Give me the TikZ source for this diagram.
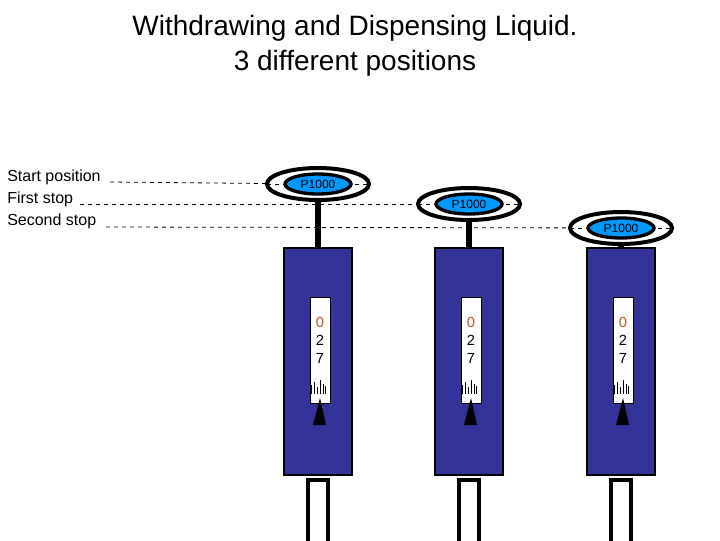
\documentclass[tikz,border=0pt]{standalone}
\usepackage{fontspec}
\setmainfont{Liberation Sans}
\begin{document}
\begin{tikzpicture}[x=0.75pt,y=-0.75pt,
  body/.style={draw=black,fill={rgb,255:red,51;green,51;blue,153},line width=0.8pt},
  win/.style={draw=black,fill=white,line width=0.6pt},
  tube/.style={draw=black,fill=white,line width=3pt},
  rod/.style={line width=4.5pt},
  outer/.style={draw=black,fill=white,line width=3pt,ellipse},
  inner/.style={draw=black,fill={rgb,255:red,0;green,153;blue,255},line width=2.5pt},
  guide/.style={dashed,line width=0.6pt},
  lbl/.style={anchor=west,font=\fontsize{12}{14}\selectfont,inner sep=0pt},
  dig/.style={font=\fontsize{11}{12}\selectfont,inner sep=0pt}]
\useasboundingbox (0,0) rectangle (720,540);
\node[font=\fontsize{21}{26}\selectfont,align=center] (title) at (355,46) {Withdrawing and Dispensing Liquid.\\3 different positions};
\node[lbl] (l1) at (7,177) {Start position};
\node[lbl] (l2) at (7,199) {First stop};
\node[lbl] (l3) at (7,221) {Second stop};
\coordinate (e1) at (318,184);
\coordinate (e2) at (469,204);
\coordinate (e3) at (621,228);
\draw[guide] (110,182) -- (e1);
\draw[guide] (80,204) -- (e2);
\draw[guide] (106,227) -- (e3);
\foreach \cx/\cy/\n in {318/184/1,469/204/2,621/228/3}{
  \draw[rod] (\cx,\cy) -- (\cx,250);
  \draw[body] (\cx-34,248) rectangle (\cx+34,475);
  \draw[win] (\cx-8,297) rectangle (\cx+12,403);
  \node[dig,text={rgb,255:red,190;green,80;blue,40}] (d0\n) at (\cx+2,322) {0};
  \node[dig] (d2\n) at (\cx+2,340) {2};
  \node[dig] (d7\n) at (\cx+2,358) {7};
  \foreach \t/\h in {-7/9,-4/12,-1/7,2/14,5/10,7/8}
    \draw[line width=0.5pt] (\cx+\t,394) -- (\cx+\t,394-\h);
  \fill (\cx+2,398) -- (\cx+8,425) -- (\cx-5,425) -- cycle;
  \draw[tube] (\cx-10,480) rectangle (\cx+10,545);
  \draw[black,line width=3pt,fill=white] (\cx,\cy) ellipse [x radius=51,y radius=16];
  \draw[guide] (\cx-51,\cy) -- (\cx+51,\cy);
  \draw[inner] (\cx,\cy) ellipse [x radius=33,y radius=10];
  \node[font=\fontsize{9}{10}\selectfont,inner sep=1pt] (p\n) at (\cx,\cy) {P1000};
}
\end{tikzpicture}
\end{document}
